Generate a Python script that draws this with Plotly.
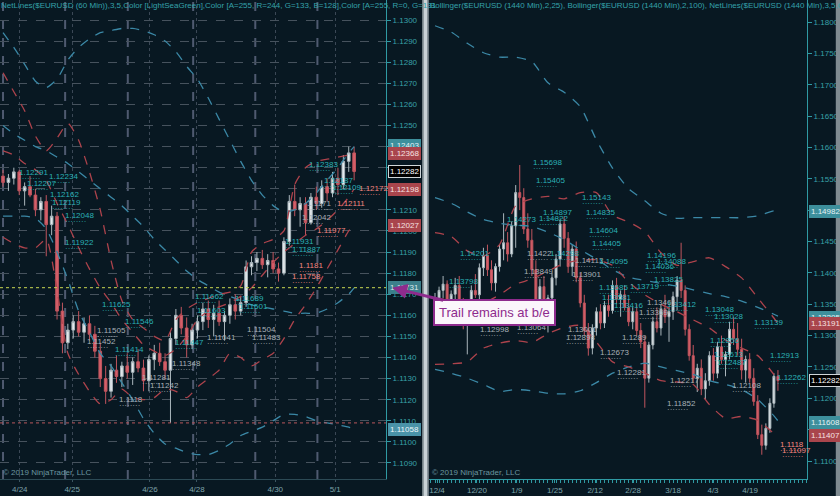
import plotly.graph_objects as go

# ---------------- left panel: $EURUSD 60 min ----------------
LEFT_OPEN = [1.1226, 1.1223, 1.1225, 1.1228, 1.1219, 1.1221, 1.1217, 1.1210, 1.1214, 1.1203, 1.1207,
             1.1162, 1.1147, 1.1153, 1.1157, 1.1152, 1.1156, 1.1151, 1.1143, 1.1130, 1.1124, 1.1134,
             1.1131, 1.1136, 1.1133, 1.1138, 1.1135, 1.1129, 1.1139, 1.1142, 1.1138, 1.1134, 1.1149,
             1.1160, 1.1154, 1.1146, 1.1153, 1.1157, 1.1163, 1.1158, 1.1161, 1.1157, 1.1160, 1.1165,
             1.1162, 1.1166, 1.1183, 1.1185, 1.1187, 1.1184, 1.1186, 1.1182, 1.1180, 1.1195, 1.1214,
             1.1210, 1.1213, 1.1204, 1.1216, 1.1213, 1.1221, 1.1218, 1.1225, 1.1222, 1.1233, 1.1237]
LEFT_HIGH = [1.1229, 1.1227, 1.1230, 1.1229, 1.1223, 1.1226, 1.1220, 1.1216, 1.1217, 1.1212, 1.1209,
             1.1166, 1.1156, 1.1160, 1.1162, 1.1159, 1.1160, 1.1155, 1.1147, 1.1136, 1.1137, 1.1141,
             1.1138, 1.1142, 1.1140, 1.1144, 1.1139, 1.1141, 1.1146, 1.1147, 1.1142, 1.1152, 1.1163,
             1.1164, 1.1159, 1.1156, 1.1160, 1.1166, 1.1167, 1.1165, 1.1167, 1.1162, 1.1168, 1.1170,
             1.1169, 1.1186, 1.1188, 1.1190, 1.1191, 1.1189, 1.1190, 1.1185, 1.1197, 1.1217, 1.1222,
             1.1216, 1.1216, 1.1218, 1.1221, 1.1224, 1.1225, 1.1228, 1.1230, 1.1236, 1.1240, 1.1240]
LEFT_LOW = [1.1221, 1.1219, 1.1222, 1.1217, 1.1212, 1.1216, 1.1207, 1.1205, 1.1188, 1.1198, 1.1158,
            1.1142, 1.1144, 1.1149, 1.1150, 1.1147, 1.1148, 1.1140, 1.1126, 1.1118, 1.1121, 1.1128,
            1.1126, 1.1130, 1.1127, 1.1133, 1.1124, 1.1124, 1.1134, 1.1136, 1.1130, 1.1109, 1.1146,
            1.1151, 1.1140, 1.1144, 1.1149, 1.1153, 1.1154, 1.1150, 1.1155, 1.1148, 1.1156, 1.1158,
            1.1160, 1.1164, 1.1179, 1.1181, 1.1182, 1.1178, 1.1180, 1.1176, 1.1179, 1.1193, 1.1207,
            1.1202, 1.1198, 1.1203, 1.1210, 1.1211, 1.1214, 1.1216, 1.1217, 1.1220, 1.1228, 1.1224]
LEFT_CLOSE = [1.1223, 1.1225, 1.1228, 1.1219, 1.1221, 1.1217, 1.1210, 1.1214, 1.1203, 1.1207, 1.1162,
              1.1147, 1.1153, 1.1157, 1.1152, 1.1156, 1.1151, 1.1143, 1.1130, 1.1124, 1.1134, 1.1131,
              1.1136, 1.1133, 1.1138, 1.1135, 1.1129, 1.1139, 1.1142, 1.1138, 1.1134, 1.1149, 1.1160,
              1.1154, 1.1146, 1.1153, 1.1157, 1.1163, 1.1158, 1.1161, 1.1157, 1.1160, 1.1165, 1.1162,
              1.1166, 1.1183, 1.1185, 1.1187, 1.1184, 1.1186, 1.1182, 1.1180, 1.1195, 1.1214, 1.1210,
              1.1213, 1.1204, 1.1216, 1.1213, 1.1221, 1.1218, 1.1225, 1.1222, 1.1233, 1.1237, 1.12282]

# band values are read at every other bar
LEFT_BAND_IDX = [0, 2, 4, 6, 8, 10, 12, 14, 16, 18, 20, 22, 24, 26, 28, 30, 32,
                 34, 36, 38, 40, 42, 44, 46, 48, 50, 52, 54, 56, 58, 60, 62, 64, 65]
LEFT_BLUE_UPPER = [1.1294, 1.1287, 1.1279, 1.1271, 1.1268, 1.1272, 1.1281, 1.1287, 1.1291, 1.1294, 1.1295,
                   1.1296, 1.1296, 1.1295, 1.1293, 1.1290, 1.1285, 1.1278, 1.1272, 1.1263, 1.1253, 1.1243,
                   1.1233, 1.1224, 1.1217, 1.1212, 1.1209, 1.1210, 1.1213, 1.1218, 1.1224, 1.1230, 1.1237, 1.1240]
LEFT_BLUE_MID = [1.1250, 1.1246, 1.1243, 1.1240, 1.1238, 1.1235, 1.1232, 1.1228, 1.1224, 1.1220, 1.1216,
                 1.1212, 1.1207, 1.1202, 1.1196, 1.1191, 1.1186, 1.1181, 1.1177, 1.1174, 1.1171, 1.1169,
                 1.1167, 1.1165, 1.1164, 1.1163, 1.1162, 1.1161, 1.1161, 1.1161, 1.1163, 1.1166, 1.1170, 1.1173]
LEFT_BLUE_LOWER = [1.1207, 1.1207, 1.1207, 1.1206, 1.1201, 1.1190, 1.1177, 1.1162, 1.1152, 1.1142, 1.1136,
                   1.1128, 1.1120, 1.1111, 1.1104, 1.1099, 1.1097, 1.1095, 1.1094, 1.1094, 1.1096, 1.1099,
                   1.1103, 1.1105, 1.1107, 1.1110, 1.1113, 1.1113, 1.1112, 1.1110, 1.1109, 1.1108, 1.1107, 1.1106]
LEFT_RED_UPPER = [1.1275, 1.1266, 1.1257, 1.1245, 1.1238, 1.1244, 1.1251, 1.1243, 1.1228, 1.1210, 1.1186,
                  1.1167, 1.1158, 1.1154, 1.1150, 1.1148, 1.1158, 1.1163, 1.1166, 1.1168, 1.1170, 1.1171,
                  1.1174, 1.1190, 1.1194, 1.1196, 1.1200, 1.1222, 1.1230, 1.1233, 1.1234, 1.1235, 1.1236, 1.1237]
LEFT_RED_MID = [1.1238, 1.1236, 1.1232, 1.1229, 1.1224, 1.1213, 1.1203, 1.1192, 1.1182, 1.1173, 1.1166,
                1.1158, 1.1152, 1.1146, 1.1143, 1.1141, 1.1144, 1.1150, 1.1158, 1.1162, 1.1164, 1.1166,
                1.1169, 1.1173, 1.1179, 1.1185, 1.1190, 1.1194, 1.1198, 1.1201, 1.1205, 1.1210, 1.1216, 1.1220]
LEFT_RED_LOWER = [1.1197, 1.1194, 1.1192, 1.1192, 1.1196, 1.1172, 1.1142, 1.1132, 1.1124, 1.1118, 1.1120,
                  1.1125, 1.1121, 1.1120, 1.1121, 1.1125, 1.1124, 1.1121, 1.1126, 1.1130, 1.1134, 1.1142,
                  1.1140, 1.1136, 1.1139, 1.1142, 1.1149, 1.1158, 1.1165, 1.1173, 1.1182, 1.1191, 1.1200, 1.1203]

LEFT_SESSION_BREAKS = [0, 11.5, 23.1, 35.2, 46.7, 58.2]
LEFT_DATE_POS = [3.1, 12.8, 27.2, 35.9, 50.4, 61.5]
LEFT_DATE_TEXT = ["4/24", "4/25", "4/26", "4/28", "4/30", "5/1"]
LEFT_TRAIL = 1.11731
LEFT_STOP = 1.1109
LEFT_TAGS = [(1.12403, "tagteal"), (1.12368, "tagred"), (1.12282, "tagblack"), (1.12198, "tagred"),
             (1.12027, "tagred"), (1.11731, "tagtrail"), (1.11058, "tagblue")]
LEFT_NOTES = [
    (2.6, 1.12275, "1.12291", "cyan"), (4.1, 1.12227, "1.12207", "cyan"), (8.1, 1.12256, "1.12234", "cyan"),
    (8.3, 1.12175, "1.12162", "cyan"), (8.7, 1.12137, "1.12119", "cyan"), (11.1, 1.12071, "1.12048", "cyan"),
    (11.1, 1.11943, "1.11922", "cyan"), (18.0, 1.11649, "1.11625", "cyan"), (22.2, 1.11573, "1.11546", "cyan"),
    (17.0, 1.11526, "1.11505", "gray"), (15.2, 1.11478, "1.11452", "gray"), (20.4, 1.11436, "1.11414", "cyan"),
    (21.1, 1.11199, "1.1118", "gray"), (26.9, 1.11265, "1.11242", "gray"), (25.4, 1.11303, "1.11281", "gray"),
    (30.9, 1.11374, "1.11348", "gray"), (31.5, 1.11469, "1.11447", "cyan"), (35.2, 1.11687, "1.11662", "cyan"),
    (35.6, 1.11621, "1.11603", "cyan"), (42.6, 1.11682, "1.11689", "cyan"), (43.3, 1.11644, "1.11601", "cyan"),
    (44.8, 1.11535, "1.11504", "gray"), (45.7, 1.11497, "1.11483", "gray"), (37.4, 1.11497, "1.11041", "gray"),
    (53.1, 1.11782, "1.11758", "salmon"), (54.4, 1.11834, "1.1181", "salmon"), (51.9, 1.11952, "1.11931", "cyan"),
    (53.1, 1.11910, "1.11887", "cyan"), (57.8, 1.12000, "1.11977", "salmon"), (55.0, 1.12066, "1.12042", "gray"),
    (61.5, 1.12132, "1.12111", "salmon"), (65.6, 1.12199, "1.12172", "salmon"), (56.3, 1.12313, "1.12383", "cyan"),
    (59.1, 1.12237, "1.12187", "cyan"), (60.6, 1.12204, "1.12109", "cyan"), (55.9, 1.12132, "1.1171", "gray"),
]

# ---------------- right panel: $EURUSD daily ----------------
RIGHT_OPEN = [1.1350, 1.1360, 1.1372, 1.1382, 1.1348, 1.1366, 1.1380, 1.1352, 1.1318, 1.1338, 1.1372,
              1.1365, 1.1408, 1.1428, 1.1405, 1.1384, 1.1410, 1.1438, 1.1448, 1.1430, 1.1475, 1.1528,
              1.1520, 1.1470, 1.1452, 1.1405, 1.1352, 1.1378, 1.1342, 1.1360, 1.1392, 1.1422, 1.1478,
              1.1455, 1.1410, 1.1438, 1.1392, 1.1352, 1.1308, 1.1280, 1.1312, 1.1338, 1.1320, 1.1348,
              1.1340, 1.1380, 1.1358, 1.1365, 1.1345, 1.1322, 1.1338, 1.1308, 1.1290, 1.1232, 1.1285,
              1.1322, 1.1312, 1.1342, 1.1330, 1.1338, 1.1362, 1.1388, 1.1372, 1.1310, 1.1268, 1.1232,
              1.1248, 1.1215, 1.1228, 1.1268, 1.1240, 1.1282, 1.1262, 1.1270, 1.1310, 1.1295, 1.1278,
              1.1245, 1.1262, 1.1232, 1.1195, 1.1142, 1.1125, 1.1152, 1.1192, 1.1235]
RIGHT_HIGH = [1.1368, 1.1378, 1.1395, 1.1388, 1.1372, 1.1392, 1.1395, 1.1360, 1.1345, 1.1380, 1.1398,
              1.1415, 1.1440, 1.1445, 1.1420, 1.1415, 1.1445, 1.1495, 1.1465, 1.1482, 1.1540, 1.1572,
              1.1535, 1.1495, 1.1470, 1.1420, 1.1390, 1.1395, 1.1365, 1.1400, 1.1430, 1.1485, 1.1490,
              1.1465, 1.1445, 1.1450, 1.1400, 1.1365, 1.1320, 1.1318, 1.1345, 1.1350, 1.1355, 1.1365,
              1.1388, 1.1392, 1.1372, 1.1380, 1.1358, 1.1345, 1.1350, 1.1320, 1.1300, 1.1290, 1.1330,
              1.1345, 1.1350, 1.1365, 1.1345, 1.1370, 1.1395, 1.1448, 1.1380, 1.1318, 1.1285, 1.1255,
              1.1262, 1.1240, 1.1275, 1.1280, 1.1290, 1.1300, 1.1275, 1.1322, 1.1330, 1.1320, 1.1295,
              1.1268, 1.1272, 1.1248, 1.1205, 1.1158, 1.1160, 1.1200, 1.1240, 1.1245]
RIGHT_LOW = [1.1335, 1.1345, 1.1360, 1.1340, 1.1340, 1.1355, 1.1345, 1.1310, 1.1270, 1.1330, 1.1360,
             1.1358, 1.1395, 1.1395, 1.1372, 1.1370, 1.1402, 1.1420, 1.1418, 1.1425, 1.1440, 1.1500,
             1.1462, 1.1440, 1.1395, 1.1340, 1.1320, 1.1335, 1.1305, 1.1350, 1.1380, 1.1410, 1.1440,
             1.1400, 1.1395, 1.1385, 1.1345, 1.1300, 1.1268, 1.1270, 1.1300, 1.1310, 1.1312, 1.1330,
             1.1335, 1.1350, 1.1330, 1.1340, 1.1315, 1.1310, 1.1300, 1.1280, 1.1185, 1.1225, 1.1278,
             1.1305, 1.1300, 1.1320, 1.1290, 1.1325, 1.1340, 1.1360, 1.1300, 1.1260, 1.1225, 1.1210,
             1.1205, 1.1198, 1.1220, 1.1228, 1.1232, 1.1255, 1.1235, 1.1262, 1.1285, 1.1268, 1.1230,
             1.1225, 1.1225, 1.1188, 1.1135, 1.1110, 1.1118, 1.1145, 1.1185, 1.1212]
RIGHT_CLOSE = [1.1360, 1.1372, 1.1382, 1.1348, 1.1366, 1.1380, 1.1352, 1.1318, 1.1338, 1.1372, 1.1365,
               1.1408, 1.1428, 1.1405, 1.1384, 1.1410, 1.1438, 1.1448, 1.1430, 1.1475, 1.1528, 1.1520,
               1.1470, 1.1452, 1.1405, 1.1352, 1.1378, 1.1342, 1.1360, 1.1392, 1.1422, 1.1478, 1.1455,
               1.1410, 1.1438, 1.1392, 1.1352, 1.1308, 1.1280, 1.1312, 1.1338, 1.1320, 1.1348, 1.1340,
               1.1380, 1.1358, 1.1365, 1.1345, 1.1322, 1.1338, 1.1308, 1.1290, 1.1232, 1.1285, 1.1322,
               1.1312, 1.1342, 1.1330, 1.1338, 1.1362, 1.1388, 1.1372, 1.1310, 1.1268, 1.1232, 1.1248,
               1.1215, 1.1228, 1.1268, 1.1240, 1.1282, 1.1262, 1.1270, 1.1310, 1.1295, 1.1278, 1.1245,
               1.1262, 1.1232, 1.1195, 1.1142, 1.1125, 1.1152, 1.1192, 1.1235, 1.12282]

# band values are read at every fourth bar
RIGHT_BAND_IDX = [0, 4, 8, 12, 16, 20, 24, 28, 32, 36, 40, 44, 48, 52, 56, 60, 64, 68, 72, 76, 80, 84, 85]
RIGHT_BLUE_UPPER = [1.1794, 1.1784, 1.1766, 1.1751, 1.1744, 1.1744, 1.1737, 1.1703, 1.1688, 1.1665, 1.1612, 1.1567,
                    1.1534, 1.1515, 1.1495, 1.1487, 1.1488, 1.1488, 1.1488, 1.1488, 1.1491, 1.1499, 1.1498]
RIGHT_BLUE_MID = [1.1520, 1.1511, 1.1497, 1.1485, 1.1479, 1.1476, 1.1474, 1.1465, 1.1453, 1.1437, 1.1422, 1.1405,
                  1.1393, 1.1388, 1.1383, 1.1379, 1.1373, 1.1367, 1.1362, 1.1355, 1.1345, 1.1334, 1.1331]
RIGHT_BLUE_LOWER = [1.1246, 1.1240, 1.1232, 1.1222, 1.1211, 1.1214, 1.1212, 1.1208, 1.1207, 1.1212, 1.1225, 1.1240,
                    1.1250, 1.1256, 1.1250, 1.1244, 1.1238, 1.1228, 1.1222, 1.1214, 1.1198, 1.1172, 1.1164]
RIGHT_RED_UPPER = [1.1464, 1.1458, 1.1435, 1.1427, 1.1445, 1.1507, 1.1518, 1.1522, 1.1518, 1.1528, 1.1528, 1.1492,
                   1.1481, 1.1466, 1.1432, 1.1412, 1.1418, 1.1424, 1.1410, 1.1392, 1.1360, 1.1328, 1.1319]
RIGHT_RED_MID = [1.1359, 1.1357, 1.1350, 1.1352, 1.1365, 1.1382, 1.1390, 1.1403, 1.1415, 1.1420, 1.1421, 1.1412,
                 1.1385, 1.1365, 1.1350, 1.1338, 1.1325, 1.1312, 1.1293, 1.1280, 1.1268, 1.1238, 1.1230]
RIGHT_RED_LOWER = [1.1254, 1.1255, 1.1258, 1.1280, 1.1288, 1.1292, 1.1289, 1.1303, 1.1313, 1.1316, 1.1290, 1.1258,
                   1.1250, 1.1240, 1.1228, 1.1226, 1.1222, 1.1190, 1.1168, 1.1171, 1.1165, 1.1144, 1.1141]

RIGHT_DATE_POS = [0.5, 10.4, 20.3, 29.7, 39.7, 49.1, 59.0, 68.9, 78.1]
RIGHT_DATE_TEXT = ["12/4", "12/20", "1/9", "1/25", "2/12", "2/28", "3/18", "4/3", "4/19"]
RIGHT_TAGS = [(1.14982, "tagteal"), (1.13295, "tagteal"), (1.13191, "tagred"), (1.12282, "tagblack"),
              (1.11608, "tagteal"), (1.11407, "tagred")]
RIGHT_NOTES = [
    (23.8, 1.15752, "1.15698", "cyan"), (24.5, 1.15465, "1.15405", "cyan"), (35.9, 1.15209, "1.15143", "cyan"),
    (26.3, 1.14970, "1.14897", "cyan"), (25.3, 1.14874, "1.14822", "cyan"), (36.9, 1.14970, "1.14835", "cyan"),
    (37.7, 1.14683, "1.14604", "cyan"), (38.4, 1.14476, "1.14405", "cyan"), (17.3, 1.14843, "1.14273", "cyan"),
    (5.7, 1.14316, "1.14201", "cyan"), (22.3, 1.14316, "1.1422", "gray"), (28.0, 1.14316, "1.14298", "cyan"),
    (34.2, 1.14205, "1.14113", "gray"), (40.1, 1.14189, "1.14095", "cyan"), (33.5, 1.13981, "1.13901", "gray"),
    (21.6, 1.14029, "1.13849", "gray"), (3.0, 1.13870, "1.13798", "cyan"), (52.0, 1.14269, "1.14196", "cyan"),
    (54.5, 1.14189, "1.14088", "cyan"), (51.5, 1.14109, "1.14036", "cyan"), (53.8, 1.13902, "1.13825", "cyan"),
    (40.1, 1.13774, "1.13685", "cyan"), (47.8, 1.13790, "1.13719", "cyan"), (40.9, 1.13615, "1.13581", "cyan"),
    (43.9, 1.13487, "1.13416", "cyan"), (52.0, 1.13535, "1.13461", "gray"), (57.0, 1.13503, "1.13412", "cyan"),
    (50.0, 1.13360, "1.13369", "gray"), (66.4, 1.13408, "1.13048", "cyan"), (68.6, 1.13312, "1.13028", "cyan"),
    (78.6, 1.13216, "1.13139", "cyan"), (10.7, 1.13089, "1.12998", "gray"), (19.8, 1.13136, "1.13064", "gray"),
    (32.5, 1.13089, "1.13001", "gray"), (32.0, 1.12977, "1.12893", "gray"), (45.8, 1.12977, "1.1289", "gray"),
    (40.4, 1.12738, "1.12673", "gray"), (67.7, 1.12929, "1.12856", "cyan"), (68.6, 1.12706, "1.12613", "cyan"),
    (69.4, 1.12578, "1.12487", "cyan"), (82.5, 1.12690, "1.12913", "cyan"), (44.6, 1.12419, "1.12281", "gray"),
    (57.7, 1.12291, "1.12217", "gray"), (73.1, 1.12196, "1.12108", "gray"), (84.3, 1.12339, "1.12262", "cyan"),
    (57.0, 1.11924, "1.11852", "gray"), (85.0, 1.11270, "1.1118", "salmon"), (85.5, 1.11175, "1.11097", "salmon"),
]

LEFT_TITLE = ("NetLines($EURUSD (60 Min)),3,5,Color [LightSeaGreen],Color [A=255, R=244, G=133, B=128],"
              "Color [A=255, R=0, G=131")
RIGHT_TITLE = ("Bollinger($EURUSD (1440 Min),2,25), Bollinger($EURUSD (1440 Min),2,100), "
               "NetLines($EURUSD (1440 Min),3,5,Color")

BG = "#081822"
AXIS = "#2f9aa3"
COLORS = {
    "cyan": "#2bb0b5", "gray": "#a7b0b6", "salmon": "#f48580",
    "red": "#ad434c", "blue": "#3b88a6",
}
TAGS = {
    "tagteal": ("#3d8f9c", "#e6f2f4"), "tagred": ("#a9454c", "#f6e2e2"),
    "tagblack": ("#000000", "#ffffff"), "tagtrail": ("#3c7f8b", "#dbe9ec"),
    "tagblue": ("#4a93a8", "#eef6f8"),
}
FONT = "Liberation Sans, Arial, sans-serif"

fig = go.Figure()


def add_panel(xa, ya, o, h, l, c, band_idx, bands):
    fig.add_trace(go.Candlestick(
        x=list(range(len(o))), open=o, high=h, low=l, close=c,
        xaxis=xa, yaxis=ya, whiskerwidth=0,
        increasing=dict(line=dict(color="#aab6bc", width=1), fillcolor="#e3e9ec"),
        decreasing=dict(line=dict(color="#c0555e", width=1), fillcolor="#d65f69"),
        hoverinfo="skip", showlegend=False,
    ))
    for values, key in bands:
        fig.add_trace(go.Scatter(
            x=band_idx, y=values, mode="lines", xaxis=xa, yaxis=ya,
            line=dict(color=COLORS[key], width=1.3, dash="dash", shape="spline", smoothing=0.6),
            hoverinfo="skip", showlegend=False,
        ))


add_panel("x", "y", LEFT_OPEN, LEFT_HIGH, LEFT_LOW, LEFT_CLOSE, LEFT_BAND_IDX,
          [(LEFT_BLUE_UPPER, "blue"), (LEFT_BLUE_MID, "blue"), (LEFT_BLUE_LOWER, "blue"),
           (LEFT_RED_UPPER, "red"), (LEFT_RED_MID, "red"), (LEFT_RED_LOWER, "red")])
add_panel("x2", "y2", RIGHT_OPEN, RIGHT_HIGH, RIGHT_LOW, RIGHT_CLOSE, RIGHT_BAND_IDX,
          [(RIGHT_BLUE_UPPER, "blue"), (RIGHT_BLUE_MID, "blue"), (RIGHT_BLUE_LOWER, "blue"),
           (RIGHT_RED_UPPER, "red"), (RIGHT_RED_MID, "red"), (RIGHT_RED_LOWER, "red")])

shapes = []
for xb in LEFT_SESSION_BREAKS:
    shapes.append(dict(type="line", xref="x", yref="y domain", x0=xb, x1=xb, y0=0, y1=1,
                       line=dict(color="#4f5a70", width=2, dash="dash"), layer="below"))
shapes.append(dict(type="line", xref="x domain", yref="y", x0=0, x1=1, y0=LEFT_TRAIL, y1=LEFT_TRAIL,
                   line=dict(color="#c9d752", width=1, dash="dot")))
shapes.append(dict(type="line", xref="x domain", yref="y", x0=0, x1=1, y0=LEFT_STOP, y1=LEFT_STOP,
                   line=dict(color="#b9565c", width=1, dash="dot")))
# panel separator and right border
shapes.append(dict(type="rect", xref="paper", yref="paper", x0=0.5025, x1=0.5105, y0=0, y1=1,
                   fillcolor="#7f8b91", line_width=0))
shapes.append(dict(type="rect", xref="paper", yref="paper", x0=0.5045, x1=0.5085, y0=0, y1=1,
                   fillcolor="#c9d2d6", line_width=0))
shapes.append(dict(type="rect", xref="paper", yref="paper", x0=0.995, x1=1, y0=0, y1=1,
                   fillcolor="#7f8b91", line_width=0))

annotations = []


def add_notes(notes, xr, yr):
    for xi, price, text, key in notes:
        annotations.append(dict(x=xi, y=price, xref=xr, yref=yr, text=text, showarrow=False,
                                xanchor="left", yanchor="middle",
                                font=dict(family=FONT, size=8, color=COLORS[key])))
        annotations.append(dict(x=xi, y=price, xref=xr, yref=yr, text="········", showarrow=False,
                                xanchor="left", yanchor="middle", yshift=-6,
                                font=dict(family=FONT, size=8, color=COLORS[key])))


def add_tags(tags, xr, yr):
    for price, key in tags:
        bg, fg = TAGS[key]
        annotations.append(dict(x=1, y=price, xref=xr, yref=yr, text=f"{price:.5f}", showarrow=False,
                                xanchor="left", yanchor="middle", xshift=2,
                                bgcolor=bg, bordercolor=bg if key != "tagblack" else "#cfd6d9",
                                borderwidth=1, borderpad=1,
                                font=dict(family=FONT, size=8, color=fg)))


add_notes(LEFT_NOTES, "x", "y")
add_notes(RIGHT_NOTES, "x2", "y2")
add_tags(LEFT_TAGS, "x domain", "y")
add_tags(RIGHT_TAGS, "x2 domain", "y2")

for xr, title in (("x domain", LEFT_TITLE), ("x2 domain", RIGHT_TITLE)):
    annotations.append(dict(x=0, y=1, xref=xr, yref="paper", text=title, showarrow=False,
                            xanchor="left", yanchor="top", xshift=-1, yshift=1,
                            font=dict(family=FONT, size=8, color="#35a2aa")))
for xr, yr in (("x domain", "y domain"), ("x2 domain", "y2 domain")):
    annotations.append(dict(x=0, y=0, xref=xr, yref=yr, text="© 2019 NinjaTrader, LLC", showarrow=False,
                            xanchor="left", yanchor="bottom", xshift=1,
                            font=dict(family=FONT, size=8, color="#6b97a0")))

# callout pointing at the trailing stop
annotations.append(dict(x=1.016, y=LEFT_TRAIL, xref="x domain", yref="y",
                        text="Trail remains at b/e", showarrow=True,
                        ax=102, ay=25, axref="pixel", ayref="pixel",
                        arrowhead=2, arrowsize=1, arrowwidth=3, arrowcolor="#8e2b8d", standoff=0,
                        bgcolor="#fbf6fb", bordercolor="#8e2b8d", borderwidth=2, borderpad=4,
                        font=dict(family=FONT, size=13, color="#8e2b8d")))

y_dom = [17 / 496, 1]
fig.update_layout(
    width=840, height=496, margin=dict(l=0, r=0, t=0, b=0, autoexpand=False),
    paper_bgcolor=BG, plot_bgcolor=BG, showlegend=False,
    shapes=shapes, annotations=annotations,
    xaxis=dict(domain=[0, 386 / 840], anchor="y", range=[-0.56, 70.9], rangeslider=dict(visible=False),
               tickvals=LEFT_DATE_POS, ticktext=LEFT_DATE_TEXT, ticks="outside", ticklen=2,
               tickcolor="#3c5560", tickfont=dict(family=FONT, size=8, color="#7ea3aa"),
               showgrid=True, gridcolor="#3b4856", griddash="dot", gridwidth=1,
               showline=True, linecolor="#2c4a55", zeroline=False, automargin=False),
    yaxis=dict(domain=y_dom, anchor="x", side="right", range=[1.108241, 1.130948],
               tickvals=[1.109 + k * 0.001 for k in range(22)], tickformat=".4f",
               ticks="outside", ticklen=4, tickcolor=AXIS,
               tickfont=dict(family=FONT, size=8, color="#38a0a8"),
               showgrid=True, gridcolor="#46525d", griddash="dash", gridwidth=1,
               showline=True, linecolor=AXIS, linewidth=1, zeroline=False, automargin=False),
    xaxis2=dict(domain=[429 / 840, 807 / 840], anchor="y2", range=[-1.49, 92.2],
                rangeslider=dict(visible=False),
                tickvals=RIGHT_DATE_POS, ticktext=RIGHT_DATE_TEXT, ticks="outside", ticklen=3,
                tickcolor=AXIS, tickfont=dict(family=FONT, size=8, color="#7ea3aa"),
                minor=dict(ticks="outside", ticklen=3, tickcolor=AXIS, dtick=1, tick0=0, showgrid=False),
                showgrid=False, showline=True, linecolor=AXIS, zeroline=False, automargin=False),
    yaxis2=dict(domain=y_dom, anchor="x2", side="right", range=[1.10713, 1.183508],
                tickvals=[1.11 + k * 0.005 for k in range(15)], tickformat=".4f",
                ticks="outside", ticklen=4, tickcolor=AXIS,
                tickfont=dict(family=FONT, size=8, color="#38a0a8"),
                showgrid=False, showline=True, linecolor=AXIS, linewidth=1, zeroline=False,
                automargin=False),
)

# the page body has a default 8px margin; drop it so the figure sits at the window origin
fig.write_html("out.html", config={"displayModeBar": False},
               post_script="document.body.style.margin = '0';")
